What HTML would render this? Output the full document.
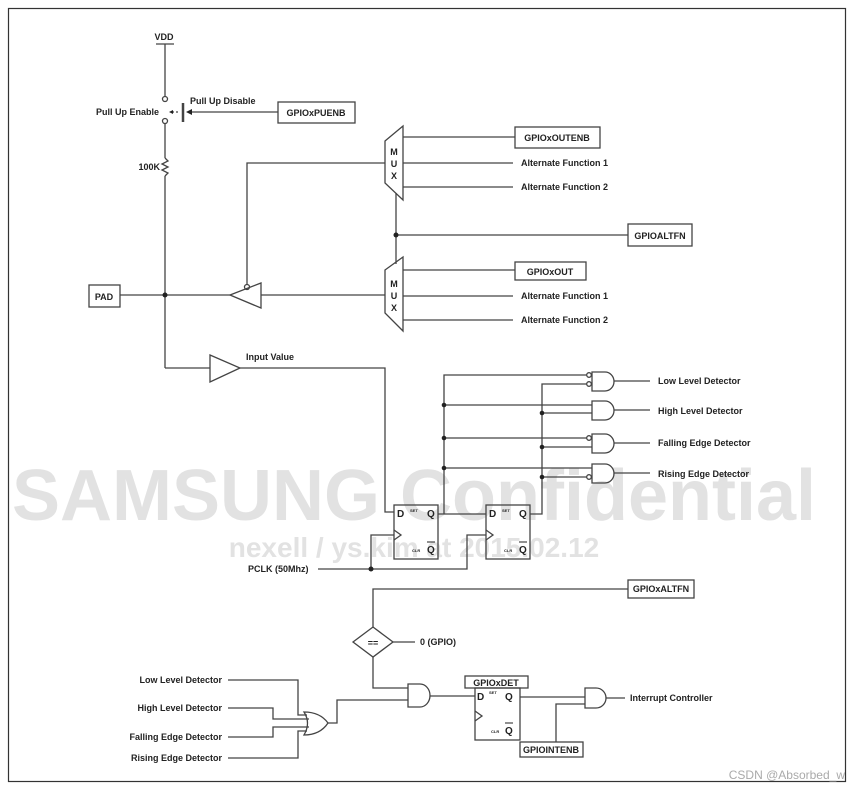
<!DOCTYPE html>
<html><head><meta charset="utf-8"><style>
html,body{margin:0;padding:0;background:#fff;}
svg{display:block;}
text{font-family:"Liberation Sans",sans-serif;font-weight:bold;fill:#222;}
</style></head><body>
<svg width="850" height="791" viewBox="0 0 850 791" xmlns="http://www.w3.org/2000/svg">
<rect x="8.5" y="8.5" width="837" height="773" fill="none" stroke="#333" stroke-width="1.2"/>
<!-- watermark -->
<text x="414" y="520" font-size="72" text-anchor="middle" style="fill:#e2e2e2">SAMSUNG Confidential</text>
<text x="414" y="557" font-size="28" text-anchor="middle" style="fill:#e2e2e2">nexell / ys.kim at 2015.02.12</text>
<g stroke="#444" stroke-width="1.3" fill="none">
<line x1="156" y1="44" x2="174" y2="44"/>
<line x1="165" y1="44" x2="165" y2="96"/>
<circle cx="165" cy="99" r="2.5"/>
<circle cx="165" cy="121" r="2.5"/>
<line x1="165" y1="124" x2="165" y2="158"/>
<polyline points="165,158 168,161 162,164 168,167 162,170 168,173 165,176"/>
<line x1="165" y1="176" x2="165" y2="368"/>
<line x1="172" y1="112" x2="180" y2="112" stroke-dasharray="2,2"/>
<line x1="183" y1="103" x2="183" y2="122" stroke-width="2.5"/>
<line x1="190" y1="112" x2="278" y2="112"/>
<rect x="278" y="102" width="77" height="21"/>
<rect x="89" y="285" width="31" height="22"/>
<line x1="120" y1="295" x2="230" y2="295"/>
<polygon points="230,295 261,283 261,308"/>
<line x1="261" y1="295" x2="385" y2="295"/>
<circle cx="247" cy="287" r="2.5"/>
<polyline points="247,285 247,163 385,163"/>
<polygon points="385,141 403,126 403,200 385,183"/>
<line x1="403" y1="137" x2="515" y2="137"/>
<line x1="403" y1="163" x2="513" y2="163"/>
<line x1="403" y1="187" x2="513" y2="187"/>
<rect x="515" y="127" width="85" height="21"/>
<line x1="396" y1="193" x2="396" y2="264"/>
<line x1="396" y1="235" x2="628" y2="235"/>
<rect x="628" y="224" width="64" height="22"/>
<polygon points="385,270 403,257 403,331 385,313"/>
<line x1="403" y1="270" x2="515" y2="270"/>
<line x1="403" y1="296" x2="513" y2="296"/>
<line x1="403" y1="320" x2="513" y2="320"/>
<rect x="515" y="262" width="71" height="18"/>
<polyline points="165,368 210,368"/>
<polygon points="210,355 240,368 210,382"/>
<polyline points="240,368 385,368 385,512 394,512"/>
<rect x="394" y="505" width="44" height="54"/>
<polyline points="394,530 401,535 394,540"/>
<rect x="486" y="505" width="44" height="54"/>
<polyline points="486,530 493,535 486,540"/>
<line x1="438" y1="514" x2="486" y2="514"/>
<polyline points="444,514 444,375 590,375"/>
<polyline points="530,514 542,514 542,384 590,384"/>
<polyline points="318,569 467,569 467,535 486,535"/>
<polyline points="371,569 371,535 394,535"/>
<path d="M592,372 H605 A9,9.5 0 0 1 605,391 H592 Z"/>
<path d="M592,401 H605 A9,9.5 0 0 1 605,420 H592 Z"/>
<path d="M592,434 H605 A9,9.5 0 0 1 605,453 H592 Z"/>
<path d="M592,464 H605 A9,9.5 0 0 1 605,483 H592 Z"/>
<line x1="614" y1="381" x2="650" y2="381"/>
<line x1="614" y1="410" x2="650" y2="410"/>
<line x1="614" y1="443" x2="650" y2="443"/>
<line x1="614" y1="473" x2="650" y2="473"/>
<line x1="444" y1="405" x2="592" y2="405"/>
<line x1="444" y1="438" x2="587" y2="438"/>
<line x1="444" y1="468" x2="592" y2="468"/>
<line x1="542" y1="413" x2="592" y2="413"/>
<line x1="542" y1="447" x2="592" y2="447"/>
<line x1="542" y1="477" x2="587" y2="477"/>
<circle cx="589" cy="375" r="2.3" fill="#fff"/>
<circle cx="589" cy="384" r="2.3" fill="#fff"/>
<circle cx="589" cy="438" r="2.3" fill="#fff"/>
<circle cx="589" cy="477" r="2.3" fill="#fff"/>
<polyline points="373,642 373,589 628,589"/>
<rect x="628" y="580" width="66" height="18"/>
<polygon points="353,642 373,627 393,642 373,657" fill="#fff"/>
<line x1="393" y1="642" x2="415" y2="642"/>
<polyline points="373,657 373,688 408,688"/>
<path d="M408,684 H420 A10,11.5 0 0 1 420,707 H408 Z"/>
<line x1="430" y1="696" x2="475" y2="696"/>
<rect x="465" y="676" width="63" height="12"/>
<rect x="475" y="688" width="45" height="52"/>
<polyline points="475,711 482,716 475,721"/>
<line x1="520" y1="697" x2="585" y2="697"/>
<path d="M585,688 H596 A10,10 0 0 1 596,708 H585 Z"/>
<line x1="606" y1="698" x2="625" y2="698"/>
<polyline points="556,742 556,704 585,704"/>
<rect x="520" y="742" width="63" height="15"/>
<path d="M304,712 Q320,712 328,723 Q320,735 304,735 Q311,723 304,712 Z"/>
<polyline points="328,723 337,723 337,700 408,700"/>
<polyline points="228,680 298,680 298,715 307,715"/>
<polyline points="228,708 273,708 273,719 309,719"/>
<polyline points="228,737 273,737 273,727 309,727"/>
<polyline points="228,758 298,758 298,731 307,731"/>
</g>
<g fill="#222">
<polygon points="186,112 192,109 192,115"/>
<polygon points="169,112 173,110 173,114"/>
<circle cx="165" cy="295" r="2.5"/>
<circle cx="396" cy="235" r="2.5"/>
<circle cx="444" cy="405" r="2.3"/><circle cx="444" cy="438" r="2.3"/><circle cx="444" cy="468" r="2.3"/>
<circle cx="542" cy="413" r="2.3"/><circle cx="542" cy="447" r="2.3"/><circle cx="542" cy="477" r="2.3"/>
<circle cx="371" cy="569" r="2.5"/>
</g>
<g font-size="9">
<text x="164" y="40" text-anchor="middle">VDD</text>
<text x="159" y="115" text-anchor="end">Pull Up Enable</text>
<text x="190" y="104">Pull Up Disable</text>
<text x="316" y="116" text-anchor="middle">GPIOxPUENB</text>
<text x="160" y="170" text-anchor="end">100K</text>
<text x="104" y="300" text-anchor="middle">PAD</text>
<text x="394" y="155" text-anchor="middle">M</text><text x="394" y="167" text-anchor="middle">U</text><text x="394" y="179" text-anchor="middle">X</text>
<text x="394" y="287" text-anchor="middle">M</text><text x="394" y="299" text-anchor="middle">U</text><text x="394" y="311" text-anchor="middle">X</text>
<text x="557" y="141" text-anchor="middle">GPIOxOUTENB</text>
<text x="521" y="166">Alternate Function 1</text>
<text x="521" y="190">Alternate Function 2</text>
<text x="660" y="239" text-anchor="middle">GPIOALTFN</text>
<text x="550" y="275" text-anchor="middle">GPIOxOUT</text>
<text x="521" y="299">Alternate Function 1</text>
<text x="521" y="323">Alternate Function 2</text>
<text x="246" y="360">Input Value</text>
<text x="658" y="384">Low Level Detector</text>
<text x="658" y="414">High Level Detector</text>
<text x="658" y="446">Falling Edge Detector</text>
<text x="658" y="477">Rising Edge Detector</text>
<text x="248" y="572">PCLK (50Mhz)</text>
<text x="661" y="592" text-anchor="middle">GPIOxALTFN</text>
<text x="373" y="646" text-anchor="middle">==</text>
<text x="420" y="645">0 (GPIO)</text>
<text x="496" y="686" text-anchor="middle">GPIOxDET</text>
<text x="630" y="701">Interrupt Controller</text>
<text x="551" y="753" text-anchor="middle">GPIOINTENB</text>
<text x="222" y="683" text-anchor="end">Low Level Detector</text>
<text x="222" y="711" text-anchor="end">High Level Detector</text>
<text x="222" y="740" text-anchor="end">Falling Edge Detector</text>
<text x="222" y="761" text-anchor="end">Rising Edge Detector</text>
</g>
<g font-size="10">
<text x="397" y="517">D</text><text x="427" y="517">Q</text><text x="427" y="553">Q</text>
<text x="489" y="517">D</text><text x="519" y="517">Q</text><text x="519" y="553">Q</text>
<text x="477" y="700">D</text><text x="505" y="700">Q</text><text x="505" y="734">Q</text>
</g>
<g stroke="#222" stroke-width="1">
<line x1="427" y1="542" x2="435" y2="542"/><line x1="519" y1="542" x2="527" y2="542"/><line x1="505" y1="723" x2="513" y2="723"/>
</g>
<g font-size="4">
<text x="410" y="512">SET</text><text x="412" y="552">CLR</text>
<text x="502" y="512">SET</text><text x="504" y="552">CLR</text>
<text x="489" y="694">SET</text><text x="491" y="733">CLR</text>
</g>
<text x="845" y="779" text-anchor="end" font-size="12" style="fill:#aaa;font-weight:normal">CSDN @Absorbed_w</text>
</svg>
</body></html>
